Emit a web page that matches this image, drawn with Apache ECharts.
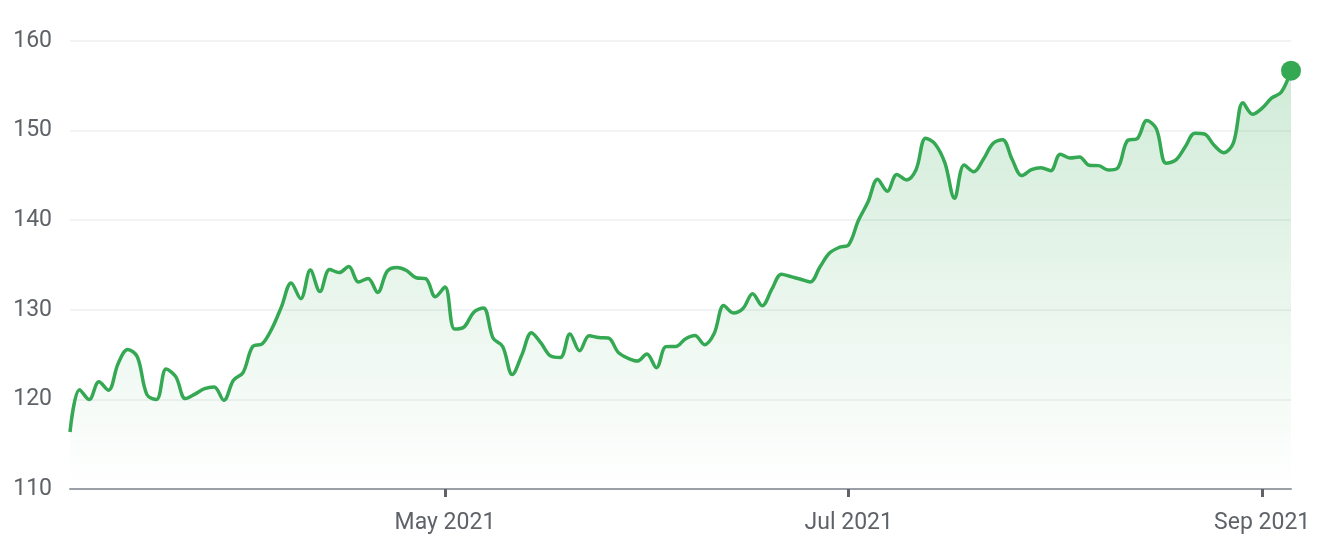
<!DOCTYPE html>
<html>
<head>
<meta charset="utf-8">
<script src="https://cdn.jsdelivr.net/npm/echarts@6/dist/echarts.min.js"></script>
<style>
html,body{margin:0;padding:0;background:#fff;}
#chart{width:1320px;height:556px;}
</style>
</head>
<body>
<div id="chart"></div>
<script>
// Trading days (Mar 8 2021 – Sep 7 2021)
const dates = [
  '2021-03-08','2021-03-09','2021-03-10','2021-03-11','2021-03-12',
  '2021-03-15','2021-03-16','2021-03-17','2021-03-18','2021-03-19',
  '2021-03-22','2021-03-23','2021-03-24','2021-03-25','2021-03-26',
  '2021-03-29','2021-03-30','2021-03-31','2021-04-01',
  '2021-04-05','2021-04-06','2021-04-07','2021-04-08','2021-04-09',
  '2021-04-12','2021-04-13','2021-04-14','2021-04-15','2021-04-16',
  '2021-04-19','2021-04-20','2021-04-21','2021-04-22','2021-04-23',
  '2021-04-26','2021-04-27','2021-04-28','2021-04-29','2021-04-30',
  '2021-05-03','2021-05-04','2021-05-05','2021-05-06','2021-05-07',
  '2021-05-10','2021-05-11','2021-05-12','2021-05-13','2021-05-14',
  '2021-05-17','2021-05-18','2021-05-19','2021-05-20','2021-05-21',
  '2021-05-24','2021-05-25','2021-05-26','2021-05-27','2021-05-28',
  '2021-06-01','2021-06-02','2021-06-03','2021-06-04',
  '2021-06-07','2021-06-08','2021-06-09','2021-06-10','2021-06-11',
  '2021-06-14','2021-06-15','2021-06-16','2021-06-17','2021-06-18',
  '2021-06-21','2021-06-22','2021-06-23','2021-06-24','2021-06-25',
  '2021-06-28','2021-06-29','2021-06-30','2021-07-01','2021-07-02',
  '2021-07-06','2021-07-07','2021-07-08','2021-07-09',
  '2021-07-12','2021-07-13','2021-07-14','2021-07-15','2021-07-16',
  '2021-07-19','2021-07-20','2021-07-21','2021-07-22','2021-07-23',
  '2021-07-26','2021-07-27','2021-07-28','2021-07-29','2021-07-30',
  '2021-08-02','2021-08-03','2021-08-04','2021-08-05','2021-08-06',
  '2021-08-09','2021-08-10','2021-08-11','2021-08-12','2021-08-13',
  '2021-08-16','2021-08-17','2021-08-18','2021-08-19','2021-08-20',
  '2021-08-23','2021-08-24','2021-08-25','2021-08-26','2021-08-27',
  '2021-08-30','2021-08-31','2021-09-01','2021-09-02','2021-09-03',
  '2021-09-07'
];
const prices = [
  116.36,121.09,119.98,121.96,121.03,
  123.99,125.57,124.76,120.53,119.99,
  123.39,122.54,120.09,120.59,121.21,
  121.39,119.90,122.15,123.00,
  125.90,126.21,127.90,130.36,133.00,
  131.24,134.43,132.03,134.50,134.16,
  134.84,133.11,133.50,131.94,134.32,
  134.72,134.39,133.58,133.48,131.46,
  132.54,127.85,128.10,129.74,130.21,
  126.85,125.91,122.77,124.97,127.45,
  126.27,124.85,124.69,127.31,125.43,
  127.10,126.90,126.85,125.28,124.61,
  124.28,125.06,123.54,125.89,
  125.90,126.74,127.13,126.11,127.35,
  130.48,129.64,130.15,131.79,130.46,
  132.30,133.98,133.70,133.41,133.11,
  134.78,136.33,136.96,137.27,139.96,
  142.02,144.57,143.24,145.11,
  144.50,145.64,149.15,148.48,146.39,
  142.45,146.15,145.40,146.80,148.56,
  148.99,146.77,144.98,145.64,145.86,
  145.52,147.36,146.95,147.06,146.14,
  146.09,145.60,145.86,148.89,149.10,
  151.12,150.19,146.36,146.70,148.19,
  149.71,149.62,148.36,147.54,148.60,
  153.12,151.83,152.51,153.65,154.30,
  156.69
];
const tickDates = ['2021-05-03','2021-07-01','2021-09-01'];
const tickLabels = ['May 2021','Jul 2021','Sep 2021'];
const yTicks = [110,120,130,140,150,160];

const green = '#34a853';
const chart = echarts.init(document.getElementById('chart'));
const lastIdx = prices.length - 1;
chart.setOption({
  animation:false,
  grid:{left:70,right:29,top:41,bottom:67},
  xAxis:{
    type:'category',
    data:dates,
    boundaryGap:false,
    axisLine:{lineStyle:{color:'#9aa0a6',width:2}},
    axisTick:{
      alignWithLabel:true,
      interval:(i,v)=>tickDates.indexOf(v)>=0,
      length:8,
      lineStyle:{color:'#5f6368',width:3}
    },
    axisLabel:{
      interval:(i,v)=>tickDates.indexOf(v)>=0,
      formatter:(v)=>{const k=tickDates.indexOf(v);return k>=0?tickLabels[k]:'';},
      color:'#5f6368',fontFamily:'Roboto',fontSize:23,margin:23
    },
    splitLine:{show:false}
  },
  yAxis:{
    type:'value',
    min:yTicks[0],max:yTicks[yTicks.length-1],interval:10,
    axisLine:{show:false},axisTick:{show:false},
    axisLabel:{color:'#5f6368',fontFamily:'Roboto',fontSize:23,margin:18,
      formatter:(v)=>yTicks.indexOf(v)>=0?String(v):''},
    splitLine:{lineStyle:{color:'#f1f3f4',width:2}}
  },
  series:[{
    type:'line',
    data:prices.map((p,i)=>i===lastIdx?{value:p,symbol:'circle',symbolSize:20,itemStyle:{color:green}}:p),
    smooth:0.35,
    showSymbol:true,
    symbol:'none',
    lineStyle:{color:green,width:3.5},
    itemStyle:{color:green},
    areaStyle:{
      color:new echarts.graphic.LinearGradient(0,0,0,1,[
        {offset:0,color:'rgba(52,168,83,0.33)'},
        {offset:1,color:'rgba(52,168,83,0)'}
      ])
    }
  }]
});
</script>
</body>
</html>
